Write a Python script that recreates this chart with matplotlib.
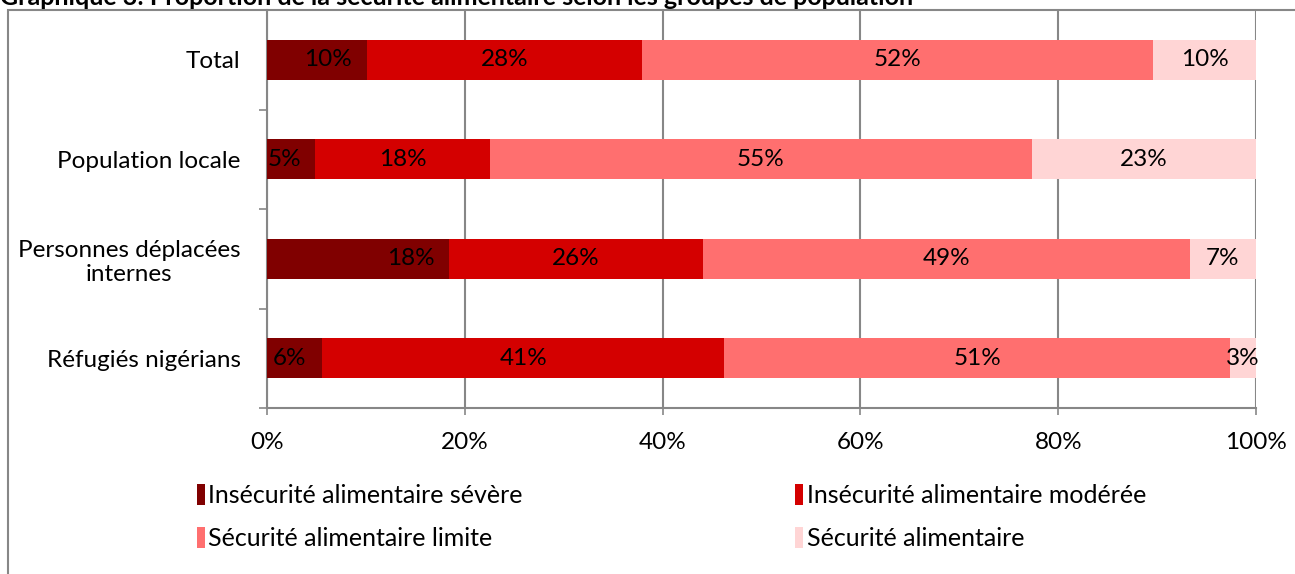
import numpy as np
import matplotlib.pyplot as plt
from matplotlib.ticker import FixedLocator, PercentFormatter
from matplotlib.patches import Rectangle

plt.rcParams['font.family'] = ['Lato', 'DejaVu Sans']

groups = ['Total', 'Population locale', 'Personnes déplacées\ninternes', 'Réfugiés nigérians']
series = ['Insécurité alimentaire sévère', 'Insécurité alimentaire modérée',
          'Sécurité alimentaire limite', 'Sécurité alimentaire']
severe = [10.1, 4.9, 18.4, 5.6]
moderate = [27.8, 17.6, 25.7, 40.6]
limit = [51.7, 54.9, 49.2, 51.2]
secure = [10.4, 22.6, 6.7, 2.6]
colors = ['#800000', '#d40000', '#ff6f6f', '#ffd5d5']
# labels of the first segment were moved by hand in the original
severe_nudge = [1.1, -0.7, 5.3, -0.5]

fig = plt.figure(figsize=(12.95, 5.74), dpi=100)
ax = fig.add_axes([267/1295, 1-408/574, (1256-267)/1295, (408-10)/574])

y = np.arange(len(groups))
left = np.zeros(len(groups))
handles = []
for i, (name, vals, c) in enumerate(zip(series, [severe, moderate, limit, secure], colors)):
    vals = np.array(vals)
    bars = ax.barh(y, vals, left=left, height=0.4, color=c, label=name, zorder=3)
    handles.append(bars)
    for j, (b, v) in enumerate(zip(bars, vals)):
        dx = severe_nudge[j] if i == 0 else 0
        ax.text(b.get_x() + b.get_width()/2 + dx, b.get_y() + b.get_height()/2, f'{v:.0f}%',
                ha='center', va='center', fontsize=17.5, color='black', zorder=4)
    left += vals

ax.set_xlim(0, 100)
ax.set_ylim(len(groups) - 0.5, -0.5)
ax.xaxis.set_major_locator(FixedLocator([0, 20, 40, 60, 80, 100]))
ax.xaxis.set_major_formatter(PercentFormatter(decimals=0))
ax.set_yticks(y)
ax.set_yticklabels(groups)
for lab in ax.get_yticklabels():
    lab.set_multialignment('center')
ax.yaxis.set_minor_locator(FixedLocator(np.arange(-0.5, len(groups), 1)))
ax.tick_params(axis='y', which='major', length=0, pad=19, labelsize=17.5)
ax.tick_params(axis='y', which='minor', length=6, width=1.2, color='#878787')
ax.tick_params(axis='x', length=5, width=1.2, color='#878787', pad=12, labelsize=17.5)
ax.grid(axis='x', color='#878787', linewidth=1.5, zorder=0)
for s in ['top', 'right']:
    ax.spines[s].set_visible(False)
for s in ['left', 'bottom']:
    ax.spines[s].set_color('#878787')
    ax.spines[s].set_linewidth(1.5)

# row-major legend order like the original
order = [0, 2, 1, 3]
fig.legend([handles[k] for k in order], [series[k] for k in order],
           loc='center', bbox_to_anchor=(0.5185, 0.099), ncol=2, frameon=False,
           fontsize=18, handlelength=0.3, handleheight=0.9, handletextpad=0.15,
           columnspacing=10.9, labelspacing=0.8)

fig.patches.append(Rectangle((8/1295, -0.1), 1.2, 1 - 10/574 + 0.1, transform=fig.transFigure,
                             fill=False, edgecolor='#878787', linewidth=1.5, zorder=0))
fig.text(0.0, 1 - 5/574, 'Graphique 3: Proportion de la sécurité alimentaire selon les groupes de population',
         fontsize=18, fontweight='bold', ha='left', va='baseline')

fig.savefig('out.png', dpi=100)
